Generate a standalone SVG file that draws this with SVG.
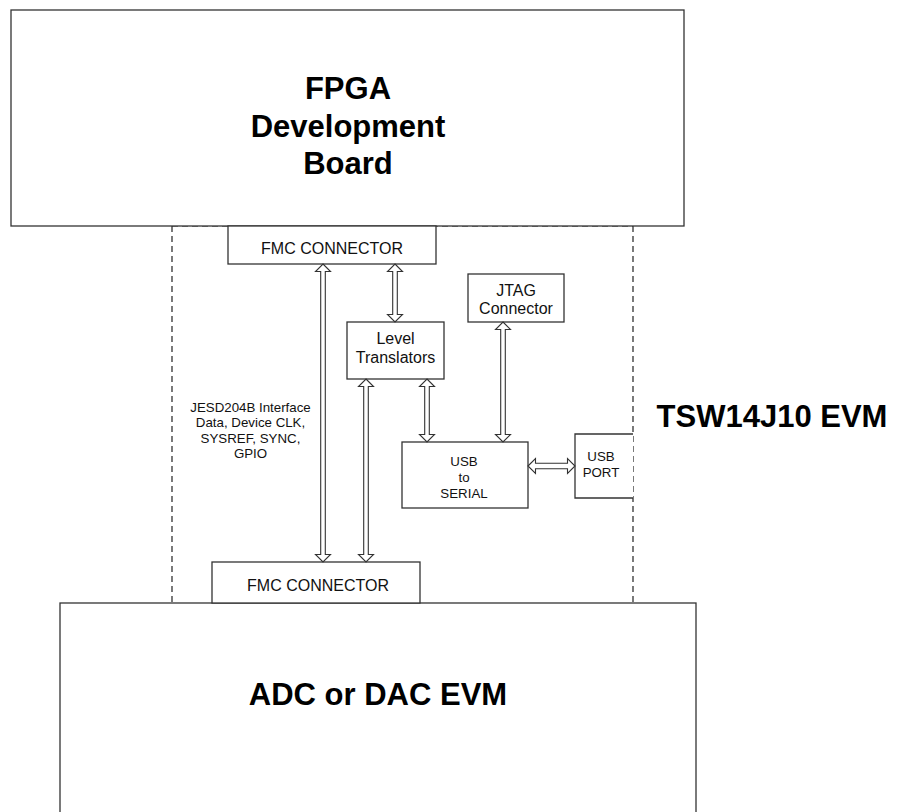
<svg xmlns="http://www.w3.org/2000/svg" width="898" height="812" viewBox="0 0 898 812">
<style>
.box{fill:#fff;stroke:#333;stroke-width:1.3}
.dash{fill:none;stroke:#222;stroke-width:1.2;stroke-dasharray:6 4}
.arr{fill:#fff;stroke:#333;stroke-width:1.1}
.big{font-family:"Liberation Sans",Arial,sans-serif;font-weight:bold;font-size:31px;fill:#000;text-anchor:middle}
.sm{font-family:"Liberation Sans",Arial,sans-serif;font-size:16px;fill:#111;text-anchor:middle}
.xs{font-family:"Liberation Sans",Arial,sans-serif;font-size:13.3px;fill:#111;text-anchor:middle}
</style>
<rect width="898" height="812" fill="#fff"/>
<g id="evm-boundary">
<line class="dash" x1="172" y1="226" x2="172" y2="603"/>
<line class="dash" x1="633" y1="226" x2="633" y2="603"/>
<line class="dash" x1="172" y1="226" x2="633" y2="226"/>
</g>
<g id="fpga">
<rect class="box" x="11" y="10" width="673" height="216"/>
<text class="big" x="348" y="99">FPGA</text>
<text class="big" x="348" y="137">Development</text>
<text class="big" x="348" y="174">Board</text>
</g>
<g id="adc">
<rect class="box" x="60" y="603" width="636" height="240"/>
<text class="big" x="378" y="705">ADC or DAC EVM</text>
</g>
<g id="evm-label">
<text class="big" x="772" y="427">TSW14J10 EVM</text>
</g>
<g id="fmc-top">
<rect class="box" x="228" y="226" width="208" height="38"/>
<text class="sm" x="332" y="254">FMC CONNECTOR</text>
</g>
<g id="fmc-bottom">
<rect class="box" x="212" y="562" width="208" height="41"/>
<text class="sm" x="318" y="590.5">FMC CONNECTOR</text>
</g>
<g id="level-translators">
<rect class="box" x="347" y="322" width="97" height="57"/>
<text class="sm" x="395.5" y="344">Level</text>
<text class="sm" x="395.5" y="362.5">Translators</text>
</g>
<g id="jtag">
<rect class="box" x="468" y="274" width="96" height="48"/>
<text class="sm" x="516" y="296">JTAG</text>
<text class="sm" x="516" y="314">Connector</text>
</g>
<g id="usb-serial">
<rect class="box" x="402" y="442" width="126" height="66"/>
<text class="xs" x="464" y="466">USB</text>
<text class="xs" x="464" y="482">to</text>
<text class="xs" x="464" y="497.5">SERIAL</text>
</g>
<g id="usb-port">
<path class="box" d="M633,434 H575 V498 H633"/>
<text class="xs" x="601" y="461">USB</text>
<text class="xs" x="601" y="477">PORT</text>
</g>
<g id="jesd-label">
<text class="xs" x="250.5" y="411.5">JESD204B Interface</text>
<text class="xs" x="250.5" y="427">Data, Device CLK,</text>
<text class="xs" x="250.5" y="442.5">SYSREF, SYNC,</text>
<text class="xs" x="250.5" y="458">GPIO</text>
</g>
<g id="connectors">
<path class="arr" d="M323,264 L330.5,271.5 L325.3,271.5 L325.3,554.5 L330.5,554.5 L323,562 L315.5,554.5 L320.7,554.5 L320.7,271.5 L315.5,271.5 Z"/>
<path class="arr" d="M395,264 L402.5,271.5 L397.3,271.5 L397.3,314.5 L402.5,314.5 L395,322 L387.5,314.5 L392.7,314.5 L392.7,271.5 L387.5,271.5 Z"/>
<path class="arr" d="M366,379 L373.5,386.5 L368.3,386.5 L368.3,554.5 L373.5,554.5 L366,562 L358.5,554.5 L363.7,554.5 L363.7,386.5 L358.5,386.5 Z"/>
<path class="arr" d="M427,379 L434.5,386.5 L429.3,386.5 L429.3,434.5 L434.5,434.5 L427,442 L419.5,434.5 L424.7,434.5 L424.7,386.5 L419.5,386.5 Z"/>
<path class="arr" d="M503,322 L510.5,329.5 L505.3,329.5 L505.3,434.5 L510.5,434.5 L503,442 L495.5,434.5 L500.7,434.5 L500.7,329.5 L495.5,329.5 Z"/>
<path class="arr" d="M528,466 L535.5,458.5 L535.5,463.3 L567.5,463.3 L567.5,458.5 L575,466 L567.5,473.5 L567.5,468.7 L535.5,468.7 L535.5,473.5 Z"/>
</g>
</svg>
